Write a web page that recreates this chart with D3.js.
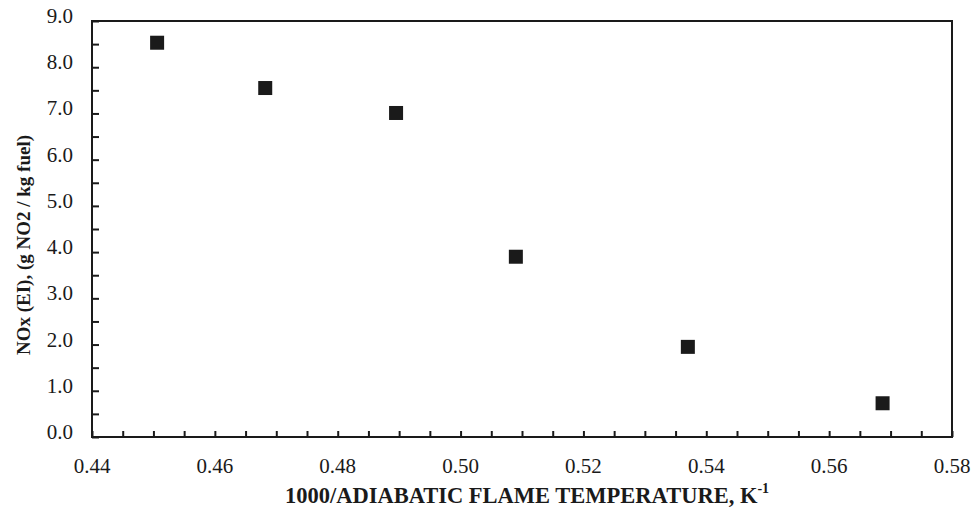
<!DOCTYPE html>
<html>
<head>
<meta charset="utf-8">
<script src="https://cdn.jsdelivr.net/npm/d3@7"></script>
<style>
  body { margin: 0; background: #fff; }
  svg text { font-family: "Liberation Serif", "DejaVu Serif", serif; fill: #1a1a1a; }
</style>
</head>
<body>
<div id="chart"></div>
<script>
// data
var invTemp = [0.4506, 0.4682, 0.4895, 0.5090, 0.5370, 0.5687];
var noxEI = [8.53, 7.55, 7.01, 3.90, 1.95, 0.73];

var xTickLabels = [0.44, 0.46, 0.48, 0.50, 0.52, 0.54, 0.56, 0.58];
var yTickLabels = [0, 1, 2, 3, 4, 5, 6, 7, 8, 9];

var width = 975, height = 519;
var margin = { top: 21, right: 23, bottom: 82, left: 92 };

var svg = d3.select("#chart").append("svg")
    .attr("width", width)
    .attr("height", height);

var x = d3.scaleLinear().domain([0.44, 0.58]).range([margin.left, width - margin.right]);
var y = d3.scaleLinear().domain([0, 9]).range([height - margin.bottom, margin.top]);

// frame
svg.append("rect")
    .attr("x", x(0.44))
    .attr("y", y(9))
    .attr("width", x(0.58) - x(0.44))
    .attr("height", y(0) - y(9))
    .attr("fill", "none")
    .attr("stroke", "#1a1a1a")
    .attr("stroke-width", 2);

// minor ticks pointing inward
var xMinor = d3.range(0, 29).map(function(i) { return 0.44 + i * 0.005; });
var yMinor = d3.range(0, 19).map(function(i) { return i * 0.5; });

var gx = svg.append("g")
    .attr("transform", "translate(0," + y(0) + ")")
    .call(d3.axisTop(x).tickValues(xMinor).tickSize(6).tickFormat(""));
gx.select(".domain").remove();
gx.selectAll(".tick line").attr("stroke", "#1a1a1a").attr("stroke-width", 2);

var gy = svg.append("g")
    .attr("transform", "translate(" + x(0.44) + ",0)")
    .call(d3.axisRight(y).tickValues(yMinor).tickSize(7).tickFormat(""));
gy.select(".domain").remove();
gy.selectAll(".tick line").attr("stroke", "#1a1a1a").attr("stroke-width", 2);

// tick labels
svg.append("g").selectAll("text")
    .data(xTickLabels)
    .join("text")
    .attr("x", function(d) { return x(d); })
    .attr("y", y(0) + 36)
    .attr("text-anchor", "middle")
    .attr("font-size", 21)
    .text(function(d) { return d3.format(".2f")(d); });

svg.append("g").selectAll("text")
    .data(yTickLabels)
    .join("text")
    .attr("x", x(0.44) - 19)
    .attr("y", function(d) { return y(d) + 2; })
    .attr("text-anchor", "end")
    .attr("font-size", 21)
    .text(function(d) { return d3.format(".1f")(d); });

// points
var sz = 14;
svg.append("g").selectAll("rect")
    .data(invTemp)
    .join("rect")
    .attr("x", function(d) { return x(d) - sz / 2; })
    .attr("y", function(d, i) { return y(noxEI[i]) - sz / 2; })
    .attr("width", sz)
    .attr("height", sz)
    .attr("fill", "#1a1a1a");

// axis titles
var xt = svg.append("text")
    .attr("x", 527)
    .attr("y", 503)
    .attr("text-anchor", "middle")
    .attr("font-size", 22.5)
    .attr("font-weight", "bold")
    .text("1000/ADIABATIC FLAME TEMPERATURE, K");
xt.append("tspan")
    .attr("font-size", 14)
    .attr("dy", -10)
    .text("-1");

svg.append("text")
    .attr("transform", "translate(30,245) rotate(-90)")
    .attr("text-anchor", "middle")
    .attr("font-size", 19)
    .attr("font-weight", "bold")
    .text("NOx (EI), (g NO2 / kg fuel)");
</script>
</body>
</html>
